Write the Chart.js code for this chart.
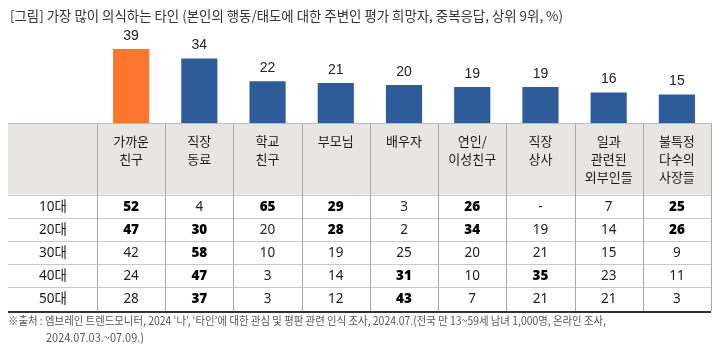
<!DOCTYPE html>
<html><head><meta charset="utf-8">
<script src="https://cdn.jsdelivr.net/npm/chart.js@4.4.1/dist/chart.umd.min.js"></script>
<style>html,body{margin:0;padding:0;background:#fff;}#wrap{position:relative;width:725px;height:355px;}canvas{display:block;}</style>
</head><body><div id="wrap"><canvas id="c" width="725" height="355"></canvas></div>
<script>
const title = '[그림] 가장 많이 의식하는 타인 (본인의 행동/태도에 대한 주변인 평가 희망자, 중복응답, 상위 9위, %)';
const categories = [['가까운','친구'],['직장','동료'],['학교','친구'],['부모님'],['배우자'],['연인/','이성친구'],['직장','상사'],['일과','관련된','외부인들'],['불특정','다수의','사장들']];
const totals = [39,34,22,21,20,19,19,16,15];
const ageGroups = ['10대','20대','30대','40대','50대'];
const age10 = [52,4,65,29,3,26,null,7,25];
const age20 = [47,30,20,28,2,34,19,14,26];
const age30 = [42,58,10,19,25,20,21,15,9];
const age40 = [24,47,3,14,31,10,35,23,11];
const age50 = [28,37,3,12,43,7,21,21,3];
const sig10 = [1,0,1,1,0,1,0,0,1];
const sig20 = [1,1,0,1,0,1,0,0,1];
const sig30 = [0,1,0,0,0,0,0,0,0];
const sig40 = [0,1,0,0,1,0,1,0,0];
const sig50 = [0,1,0,0,1,0,0,0,0];
const sourceLines = ["※출처 : 엠브레인 트렌드모니터, 2024 ‘나’, ‘타인’에 대한 관심 및 평판 관련 인식 조사, 2024.07.(전국 만 13~59세 남녀 1,000명, 온라인 조사,", "2024.07.03.~07.09.)"];

const rows = [age10, age20, age30, age40, age50];
const sigs = [sig10, sig20, sig30, sig40, sig50];
const ORANGE = '#FD762F', BLUE = '#2E5B9A';
const KFONT = '"Noto Sans CJK KR", "Noto Sans", sans-serif';

const tablePlugin = {
  id: 'tablePlugin',
  afterDraw(chart) {
    const ctx = chart.ctx;
    const xs = chart.scales.x;
    const ca = chart.chartArea;
    const n = categories.length;
    const w = (ca.right - ca.left) / n;
    const tableLeft = 8, tableRight = ca.right;
    const headTop = ca.bottom + 0.5, headBottom = 194.5;
    const rowEdges = [194.5, 218, 241, 264, 287, 311];
    ctx.save();
    const meta = chart.getDatasetMeta(0);
    ctx.font = '14px "Liberation Sans", Arial, sans-serif';
    ctx.fillStyle = '#222';
    ctx.textAlign = 'center';
    ctx.textBaseline = 'middle';
    meta.data.forEach((bar, i) => {
      ctx.fillText(String(totals[i]), bar.x, bar.y - 13);
    });
    ctx.fillStyle = '#E8E6E2';
    ctx.fillRect(tableLeft, headTop, tableRight - tableLeft, headBottom - headTop);
    ctx.strokeStyle = '#BDBBB7';
    ctx.lineWidth = 1;
    ctx.beginPath(); ctx.moveTo(tableLeft, headTop); ctx.lineTo(tableRight, headTop); ctx.stroke();
    ctx.strokeStyle = '#C8C8C8';
    for (let r = 0; r < rowEdges.length - 1; r++) {
      const y = Math.round(rowEdges[r]) + 0.5;
      ctx.beginPath(); ctx.moveTo(tableLeft, y); ctx.lineTo(tableRight, y); ctx.stroke();
    }
    ctx.strokeStyle = '#A8A8A8';
    for (let i = 0; i <= n; i++) {
      const x = Math.round(xs.getPixelForValue(Math.min(i, n - 1)) + (i === n ? w / 2 : -w / 2)) + 0.5;
      ctx.beginPath(); ctx.moveTo(x, headTop); ctx.lineTo(x, rowEdges[rowEdges.length - 1]); ctx.stroke();
    }
    ctx.strokeStyle = '#333';
    ctx.lineWidth = 2;
    ctx.beginPath(); ctx.moveTo(tableLeft, 312); ctx.lineTo(tableRight, 312); ctx.stroke();
    ctx.fillStyle = '#1a1a1a';
    ctx.font = '13px ' + KFONT;
    ctx.textAlign = 'center';
    ctx.textBaseline = 'middle';
    categories.forEach((lines, i) => {
      const cx = xs.getPixelForValue(i);
      lines.forEach((t, k) => ctx.fillText(t, cx, 141 + k * 18));
    });
    rows.forEach((vals, r) => {
      const cy = (rowEdges[r] + rowEdges[r + 1]) / 2 + 0.5;
      ctx.font = '13.5px "Noto Sans", ' + KFONT;
      ctx.fillStyle = '#1a1a1a';
      ctx.fillText(ageGroups[r], (tableLeft + ca.left) / 2 + 0.5, cy);
      vals.forEach((v, i) => {
        const cx = xs.getPixelForValue(i);
        ctx.font = (sigs[r][i] ? '900 13.5px ' : '13.5px ') + '"Noto Sans", ' + KFONT;
        ctx.fillStyle = sigs[r][i] ? '#000' : '#222';
        ctx.fillText(v === null ? '-' : String(v), cx, cy);
      });
    });
    ctx.textAlign = 'left';
    ctx.fillStyle = '#333';
    ctx.font = '13.5px ' + KFONT;
    ctx.fillText(title, 10, 16, 553);
    ctx.fillStyle = '#555';
    ctx.font = '11.5px ' + KFONT;
    ctx.fillText(sourceLines[0], 8, 321, 598);
    ctx.fillText(sourceLines[1], 46, 338, 98);
    ctx.restore();
  }
};

new Chart(document.getElementById('c'), {
  type: 'bar',
  data: {
    labels: categories,
    datasets: [{
      data: totals,
      backgroundColor: totals.map((v, i) => i === 0 ? ORANGE : BLUE),
      barPercentage: 0.53,
      categoryPercentage: 1
    }]
  },
  options: {
    responsive: false,
    animation: false,
    devicePixelRatio: 1,
    layout: { padding: { left: 97, right: 14, top: 28, bottom: 232 } },
    scales: {
      x: { display: false },
      y: { display: false, min: 0, max: 50 }
    },
    plugins: { legend: { display: false }, tooltip: { enabled: false }, title: { display: false } }
  },
  plugins: [tablePlugin]
});
</script>
</body></html>
